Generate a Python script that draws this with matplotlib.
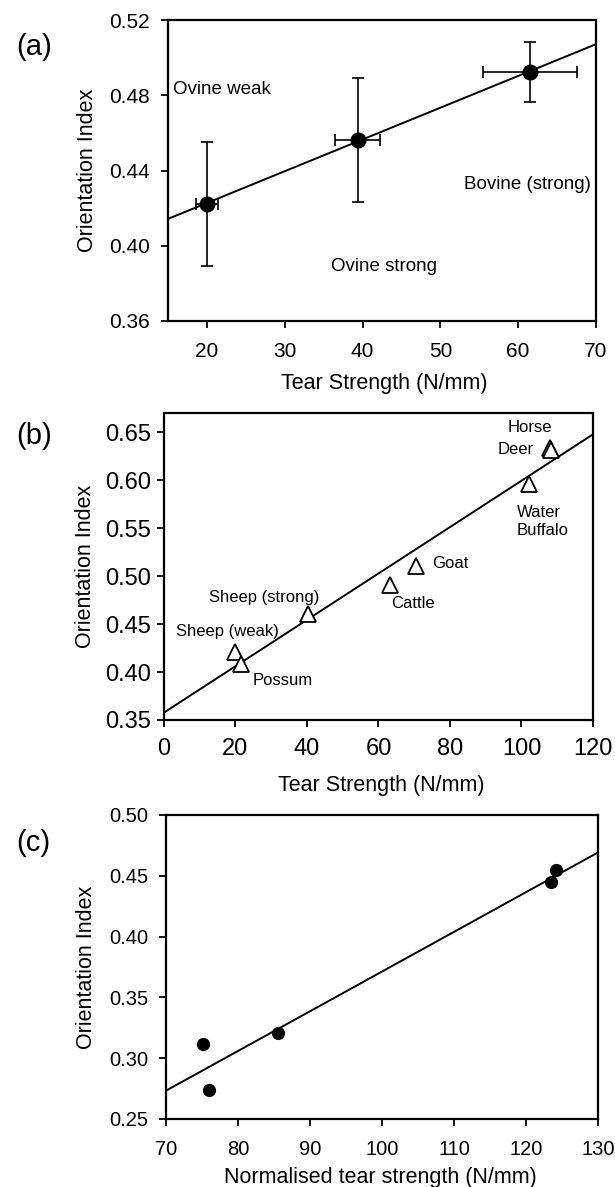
import numpy as np
import matplotlib
matplotlib.use("Agg")
import matplotlib.pyplot as plt

plt.rcParams['font.family'] = ['Liberation Sans', 'DejaVu Sans']

# panel (a) - mean values with error bars
a_x = [20.0, 39.4, 61.5]
a_y = [0.4224, 0.4561, 0.4925]
a_xerr = [1.4, 2.9, 6.0]
a_yerr = [0.033, 0.033, 0.016]
a_labels = ["Ovine weak", "Ovine strong", "Bovine (strong)"]
a_label_pos = [(15.6, 0.4833), (35.9, 0.3892), (53.0, 0.4323)]

# panel (b) - species
b_names = ["Sheep (weak)", "Possum", "Sheep (strong)", "Cattle", "Goat",
           "Water Buffalo", "Horse", "Deer"]
b_x = [20.0, 21.6, 40.2, 63.2, 70.5, 102.1, 108.1, 108.3]
b_y = [0.4207, 0.4086, 0.461, 0.491, 0.5107, 0.5955, 0.6335, 0.6315]
b_label_text = ["Sheep (weak)", "Possum", "Sheep (strong)", "Cattle", "Goat",
                "Water", "Buffalo", "Horse", "Deer"]
b_label_pos = [(3.3, 0.4424), (24.9, 0.3914), (12.6, 0.4776), (63.6, 0.4717),
               (75.1, 0.5128), (98.6, 0.5666), (98.6, 0.5472), (96.2, 0.6552),
               (93.2, 0.632)]

# panel (c) - normalised
c_x = [75.2, 76.0, 85.6, 123.5, 124.2]
c_y = [0.3113, 0.2742, 0.3209, 0.4445, 0.4547]

W, H = 615, 1187
fig = plt.figure(figsize=(W / 100, H / 100), dpi=100)


def make_axes(l, r, t, b):
    return fig.add_axes([l / W, (H - b) / H, (r - l) / W, (b - t) / H])


def style(ax, tick_size, xpad, ypad):
    for s in ax.spines.values():
        s.set_linewidth(1.6)
    ax.tick_params(direction="out", length=5, width=1.3, labelsize=tick_size,
                   top=False, right=False)
    ax.tick_params(axis="x", pad=xpad)
    ax.tick_params(axis="y", pad=ypad)


def fit_line(ax, x, y, lo, hi):
    k, c = np.polyfit(x, y, 1)
    xx = np.array([lo, hi])
    ax.plot(xx, k * xx + c, color="black", lw=1.4, zorder=2)


# ---- (a)
ax1 = make_axes(168, 596, 20, 321)
fit_line(ax1, a_x, a_y, 15, 70)
ax1.errorbar(a_x, a_y, xerr=a_xerr, yerr=a_yerr, fmt="o", color="black",
             ms=10.5, elinewidth=1.2, capsize=4.5, capthick=1.2, zorder=3)
for txt, (tx, ty) in zip(a_labels, a_label_pos):
    ax1.text(tx, ty, txt, fontsize=13.5, va="center", ha="left")
ax1.set_xlim(15, 70)
ax1.set_ylim(0.36, 0.52)
ax1.set_xticks([20, 30, 40, 50, 60, 70])
ax1.set_yticks([0.36, 0.40, 0.44, 0.48, 0.52])
ax1.set_yticklabels(["%.2f" % v for v in [0.36, 0.40, 0.44, 0.48, 0.52]])
style(ax1, 15, 10, 8)
ax1.set_xlabel("Tear Strength (N/mm)", fontsize=15.5, va="center")
ax1.set_ylabel("Orientation Index", fontsize=15.5, va="center")
ax1.xaxis.set_label_coords(0.505, -0.206)
ax1.yaxis.set_label_coords(-0.189, 0.5)

# ---- (b)
ax2 = make_axes(164, 593, 413, 720)
fit_line(ax2, b_x, b_y, 0, 120)
ax2.plot(b_x, b_y, "^", ms=12, mfc="white", mec="black", mew=1.3,
         linestyle="none", zorder=3)
for txt, (tx, ty) in zip(b_label_text, b_label_pos):
    ax2.text(tx, ty, txt, fontsize=12, va="center", ha="left")
ax2.set_xlim(0, 120)
ax2.set_ylim(0.35, 0.67)
ax2.set_xticks([0, 20, 40, 60, 80, 100, 120])
ax2.set_yticks([0.35, 0.40, 0.45, 0.50, 0.55, 0.60, 0.65])
ax2.set_yticklabels(["%.2f" % v for v in [0.35, 0.40, 0.45, 0.50, 0.55, 0.60, 0.65]])
style(ax2, 17, 8, 4)
ax2.set_xlabel("Tear Strength (N/mm)", fontsize=15.5, va="center")
ax2.set_ylabel("Orientation Index", fontsize=15.5, va="center")
ax2.xaxis.set_label_coords(0.506, -0.212)
ax2.yaxis.set_label_coords(-0.184, 0.5)

# ---- (c)
ax3 = make_axes(166, 598, 815, 1119)
fit_line(ax3, c_x, c_y, 70, 130)
ax3.plot(c_x, c_y, "o", color="black", ms=8.5, linestyle="none", zorder=3)
ax3.set_xlim(70, 130)
ax3.set_ylim(0.25, 0.50)
ax3.set_xticks([70, 80, 90, 100, 110, 120, 130])
ax3.set_yticks([0.25, 0.30, 0.35, 0.40, 0.45, 0.50])
ax3.set_yticklabels(["%.2f" % v for v in [0.25, 0.30, 0.35, 0.40, 0.45, 0.50]])
style(ax3, 14.5, 10, 8)
ax3.set_xlabel("Normalised tear strength (N/mm)", fontsize=15.5, va="center")
ax3.set_ylabel("Orientation Index", fontsize=15.5, va="center")
ax3.xaxis.set_label_coords(0.497, -0.191)
ax3.yaxis.set_label_coords(-0.183, 0.5)

# panel letters
for letter, py in [("(a)", 47), ("(b)", 436), ("(c)", 843)]:
    fig.text(16 / W, 1 - py / H, letter, fontsize=21, va="center", ha="left")

fig.savefig("out.png", dpi=100)
